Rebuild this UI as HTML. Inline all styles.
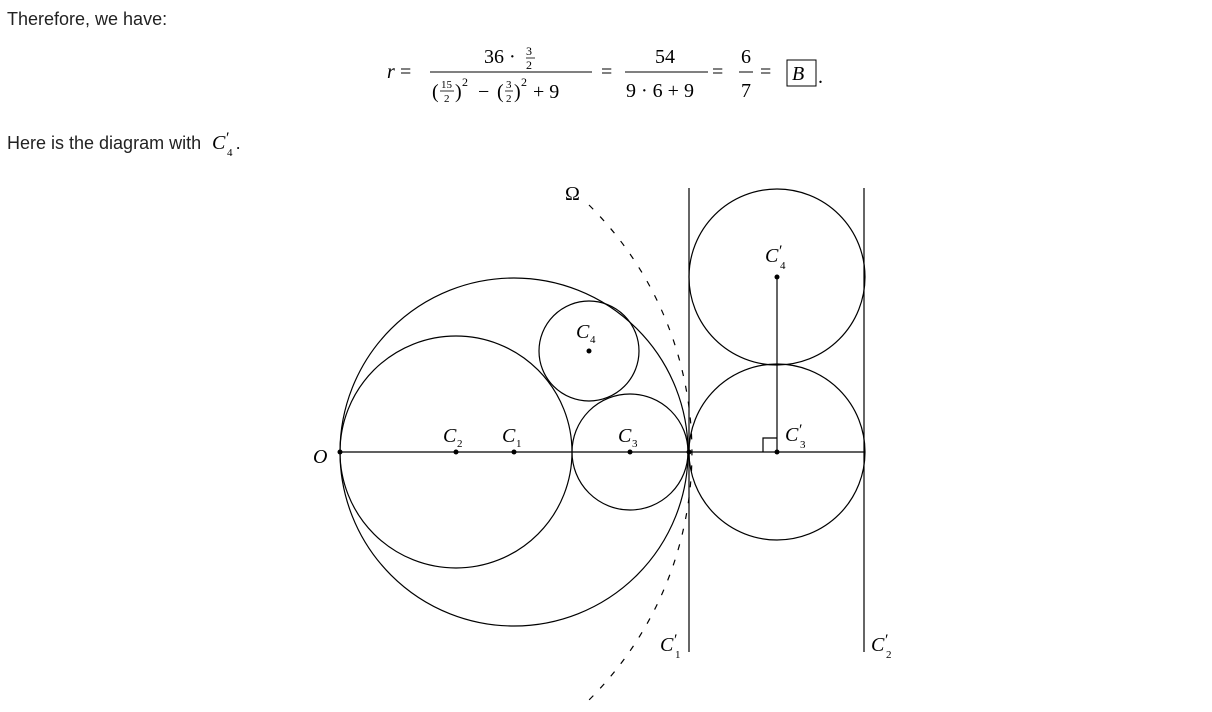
<!DOCTYPE html>
<html><head><style>body{margin:0;background:#fff}svg{display:block}</style></head><body>
<svg width="1212" height="712" viewBox="0 0 1212 712" xmlns="http://www.w3.org/2000/svg">
<g font-family="Liberation Sans, sans-serif" font-size="18" fill="#222">
<text x="7" y="25">Therefore, we have:</text>
<text x="7" y="149">Here is the diagram with</text>
</g>
<g font-family="Liberation Serif, serif" fill="#000">
<text x="212" y="149" font-size="20" font-style="italic">C</text><text x="226" y="143" font-size="16">′</text><text x="227" y="156" font-size="11">4</text><text x="236" y="149" font-size="17">.</text>
<text x="387" y="78" font-size="20" font-style="italic">r</text><text x="400" y="78" font-size="20">=</text>
<line x1="430" y1="72" x2="592" y2="72" stroke="#000" stroke-width="1"/>
<text x="484" y="63" font-size="20">36 ·</text>
<text x="526" y="55" font-size="12">3</text><line x1="526" y1="58" x2="535" y2="58" stroke="#000" stroke-width="0.8"/><text x="526" y="69" font-size="12">2</text>
<text x="432" y="98" font-size="20">(</text><text x="441" y="88" font-size="11">15</text><line x1="440" y1="91" x2="454" y2="91" stroke="#000" stroke-width="0.8"/><text x="444" y="102" font-size="11">2</text><text x="455" y="98" font-size="20">)</text><text x="462" y="86" font-size="12">2</text>
<text x="478" y="98" font-size="20">−</text>
<text x="497" y="98" font-size="20">(</text><text x="506" y="88" font-size="11">3</text><line x1="505" y1="91" x2="513" y2="91" stroke="#000" stroke-width="0.8"/><text x="506" y="102" font-size="11">2</text><text x="514" y="98" font-size="20">)</text><text x="521" y="86" font-size="12">2</text>
<text x="533" y="98" font-size="20">+ 9</text>
<text x="601" y="78" font-size="20">=</text>
<text x="655" y="63" font-size="20">54</text>
<line x1="625" y1="72" x2="708" y2="72" stroke="#000" stroke-width="1"/>
<text x="626" y="97" font-size="20">9 · 6 + 9</text>
<text x="712" y="78" font-size="20">=</text>
<text x="741" y="63" font-size="20">6</text>
<line x1="739" y1="72" x2="753" y2="72" stroke="#000" stroke-width="1"/>
<text x="741" y="97" font-size="20">7</text>
<text x="760" y="78" font-size="20">=</text>
<rect x="787" y="60" width="29" height="26" fill="none" stroke="#000" stroke-width="1"/>
<text x="792" y="80" font-size="20" font-style="italic">B</text>
<text x="818" y="83" font-size="20">.</text>
</g>
<g fill="none" stroke="#000" stroke-width="1.2">
<circle cx="514" cy="452" r="174"/>
<circle cx="456" cy="452" r="116"/>
<circle cx="630" cy="452" r="58"/>
<circle cx="589" cy="351" r="50"/>
<circle cx="777" cy="452" r="88"/>
<circle cx="777" cy="277" r="88"/>
<line x1="689" y1="188" x2="689" y2="652"/>
<line x1="864" y1="188" x2="864" y2="652"/>
<line x1="340" y1="452" x2="864" y2="452"/>
<line x1="777" y1="277" x2="777" y2="452"/>
<polyline points="763,452 763,438 777,438"/>
<path d="M589,205 A349,349 0 0 1 589,700" stroke-dasharray="6,10"/>
</g>
<g fill="#000">
<circle cx="340" cy="452" r="2.5"/><circle cx="456" cy="452" r="2.5"/><circle cx="514" cy="452" r="2.5"/>
<circle cx="630" cy="452" r="2.5"/><circle cx="589" cy="351" r="2.5"/><circle cx="689" cy="452" r="2.5"/>
<circle cx="777" cy="452" r="2.5"/><circle cx="777" cy="277" r="2.5"/>
</g>
<g font-family="Liberation Serif, serif" font-size="20" font-style="italic" fill="#000">
<text x="313" y="463">O</text>
<text x="565" y="200" font-style="normal">Ω</text>
<text x="443" y="442">C</text><text x="457" y="447" font-size="11" font-style="normal">2</text>
<text x="502" y="442">C</text><text x="516" y="447" font-size="11" font-style="normal">1</text>
<text x="618" y="442">C</text><text x="632" y="447" font-size="11" font-style="normal">3</text>
<text x="576" y="338">C</text><text x="590" y="343" font-size="11" font-style="normal">4</text>
<text x="765" y="262">C</text><text x="779" y="256" font-size="16" font-style="normal">′</text><text x="780" y="269" font-size="11" font-style="normal">4</text>
<text x="785" y="441">C</text><text x="799" y="435" font-size="16" font-style="normal">′</text><text x="800" y="448" font-size="11" font-style="normal">3</text>
<text x="660" y="651">C</text><text x="674" y="645" font-size="16" font-style="normal">′</text><text x="675" y="658" font-size="11" font-style="normal">1</text>
<text x="871" y="651">C</text><text x="885" y="645" font-size="16" font-style="normal">′</text><text x="886" y="658" font-size="11" font-style="normal">2</text>
</g>
</svg>
</body></html>
